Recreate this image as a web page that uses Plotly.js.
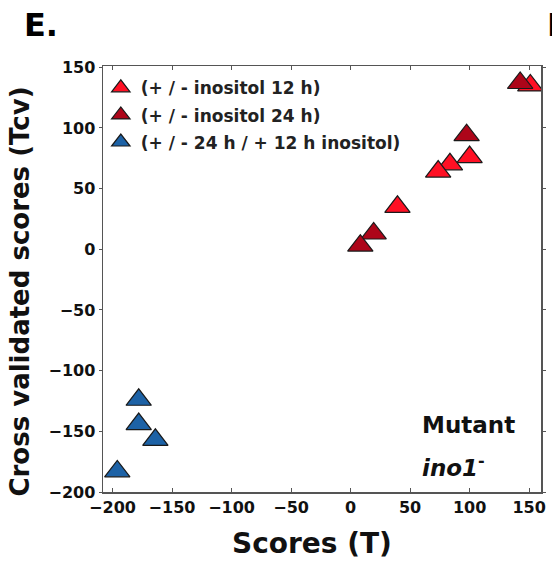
<!DOCTYPE html>
<html>
<head>
<meta charset="utf-8">
<script src="https://cdn.plot.ly/plotly-3.0.1.min.js"></script>
<style>html,body{margin:0;padding:0;background:#fff;}#chart{width:552px;height:564px;}</style>
</head>
<body>
<div id="chart"></div>
<script>
var seriesNames = ['(+ / - inositol 12 h)', '(+ / - inositol 24 h)', '(+ / - 24 h / + 12 h inositol)'];
// (+/- inositol 12 h)
var t12 = [151, 100, 83.5, 73.6, 39.4];
var tcv12 = [135, 76, 70, 64, 35];
// (+/- inositol 24 h)
var t24 = [142.5, 97.5, 19.4, 8.2];
var tcv24 = [137, 94, 13, 3];
// (+/- 24 h / + 12 h inositol)
var tMix = [-178, -178, -164, -196];
var tcvMix = [-124, -144, -157, -183];
var xTicks = [-200, -150, -100, -50, 0, 50, 100, 150];
var yTicks = [-200, -150, -100, -50, 0, 50, 100, 150];

var colors = ['#ff1024', '#ad0519', '#1d62a6'];
var FONT = 'DejaVu Sans, Liberation Sans, Arial, sans-serif';

function mk(x, y, i) {
  return {
    x: x, y: y, type: 'scatter', mode: 'markers', name: seriesNames[i], legendgroup: 'g' + i,
    marker: {symbol: 'triangle-up', size: 22, color: colors[i], line: {color: '#1a1a1a', width: 1.2}}
  };
}
var data = [mk(t12, tcv12, 0), mk(t24, tcv24, 1), mk(tMix, tcvMix, 2)];

function fmt(v) { return v < 0 ? '\u2212' + (-v) : String(v); }
var tickFont = {family: FONT, size: 16, color: '#111', weight: 'bold'};
var layout = {
  width: 552, height: 564,
  margin: {l: 103, r: 11, t: 66, b: 72},
  paper_bgcolor: '#fff', plot_bgcolor: '#fff',
  showlegend: true,
  legend: {x: -0.005, y: 0.99, xanchor: 'left', yanchor: 'top', bgcolor: 'rgba(0,0,0,0)',
    font: {family: FONT, size: 17, color: '#222', weight: 'bold'},
    itemsizing: 'trace', traceorder: 'grouped', tracegroupgap: 2},
  xaxis: {
    range: [-208, 160], tickvals: xTicks, ticktext: xTicks.map(fmt),
    showgrid: false, zeroline: false, showline: true, linecolor: '#555', linewidth: 1.5, mirror: 'ticks',
    ticks: 'inside', ticklen: 4, tickcolor: '#555', tickfont: tickFont
  },
  yaxis: {
    range: [-200, 151], tickvals: yTicks, ticktext: yTicks.map(fmt),
    showgrid: false, zeroline: false, showline: true, linecolor: '#555', linewidth: 1.5, mirror: 'ticks',
    ticks: 'outside', ticklen: 3, tickcolor: '#555', tickfont: tickFont
  },
  annotations: [
    {xref: 'paper', yref: 'paper', x: 0.477, y: -0.122, xanchor: 'center', yanchor: 'middle', showarrow: false,
     text: '<b>Scores (T)</b>', font: {family: FONT, size: 28, color: '#111'}},
    {xref: 'paper', yref: 'paper', x: -0.19, y: 0.47, xanchor: 'center', yanchor: 'middle', showarrow: false, textangle: -90,
     text: '<b>Cross validated scores (Tcv)</b>', font: {family: FONT, size: 26, color: '#111'}},
    {xref: 'paper', yref: 'paper', x: 0.724, y: 0.158, xanchor: 'left', yanchor: 'middle', showarrow: false,
     text: '<b>Mutant</b>', font: {family: FONT, size: 23, color: '#111'}},
    {xref: 'paper', yref: 'paper', x: 0.724, y: 0.062, xanchor: 'left', yanchor: 'middle', showarrow: false,
     text: '<b><i>ino1</i><sup>-</sup></b>', font: {family: FONT, size: 23, color: '#111'}},
    {xref: 'paper', yref: 'paper', x: -0.185, y: 1.096, xanchor: 'left', yanchor: 'middle', showarrow: false,
     text: '<b>E.</b>', font: {family: FONT, size: 32, color: '#000'}},
    {xref: 'paper', yref: 'paper', x: 1.009, y: 1.096, xanchor: 'left', yanchor: 'middle', showarrow: false,
     text: '<b>F</b>', font: {family: FONT, size: 32, color: '#000'}}
  ]
};
Plotly.newPlot('chart', data, layout, {displayModeBar: false, staticPlot: true});
</script>
</body>
</html>
